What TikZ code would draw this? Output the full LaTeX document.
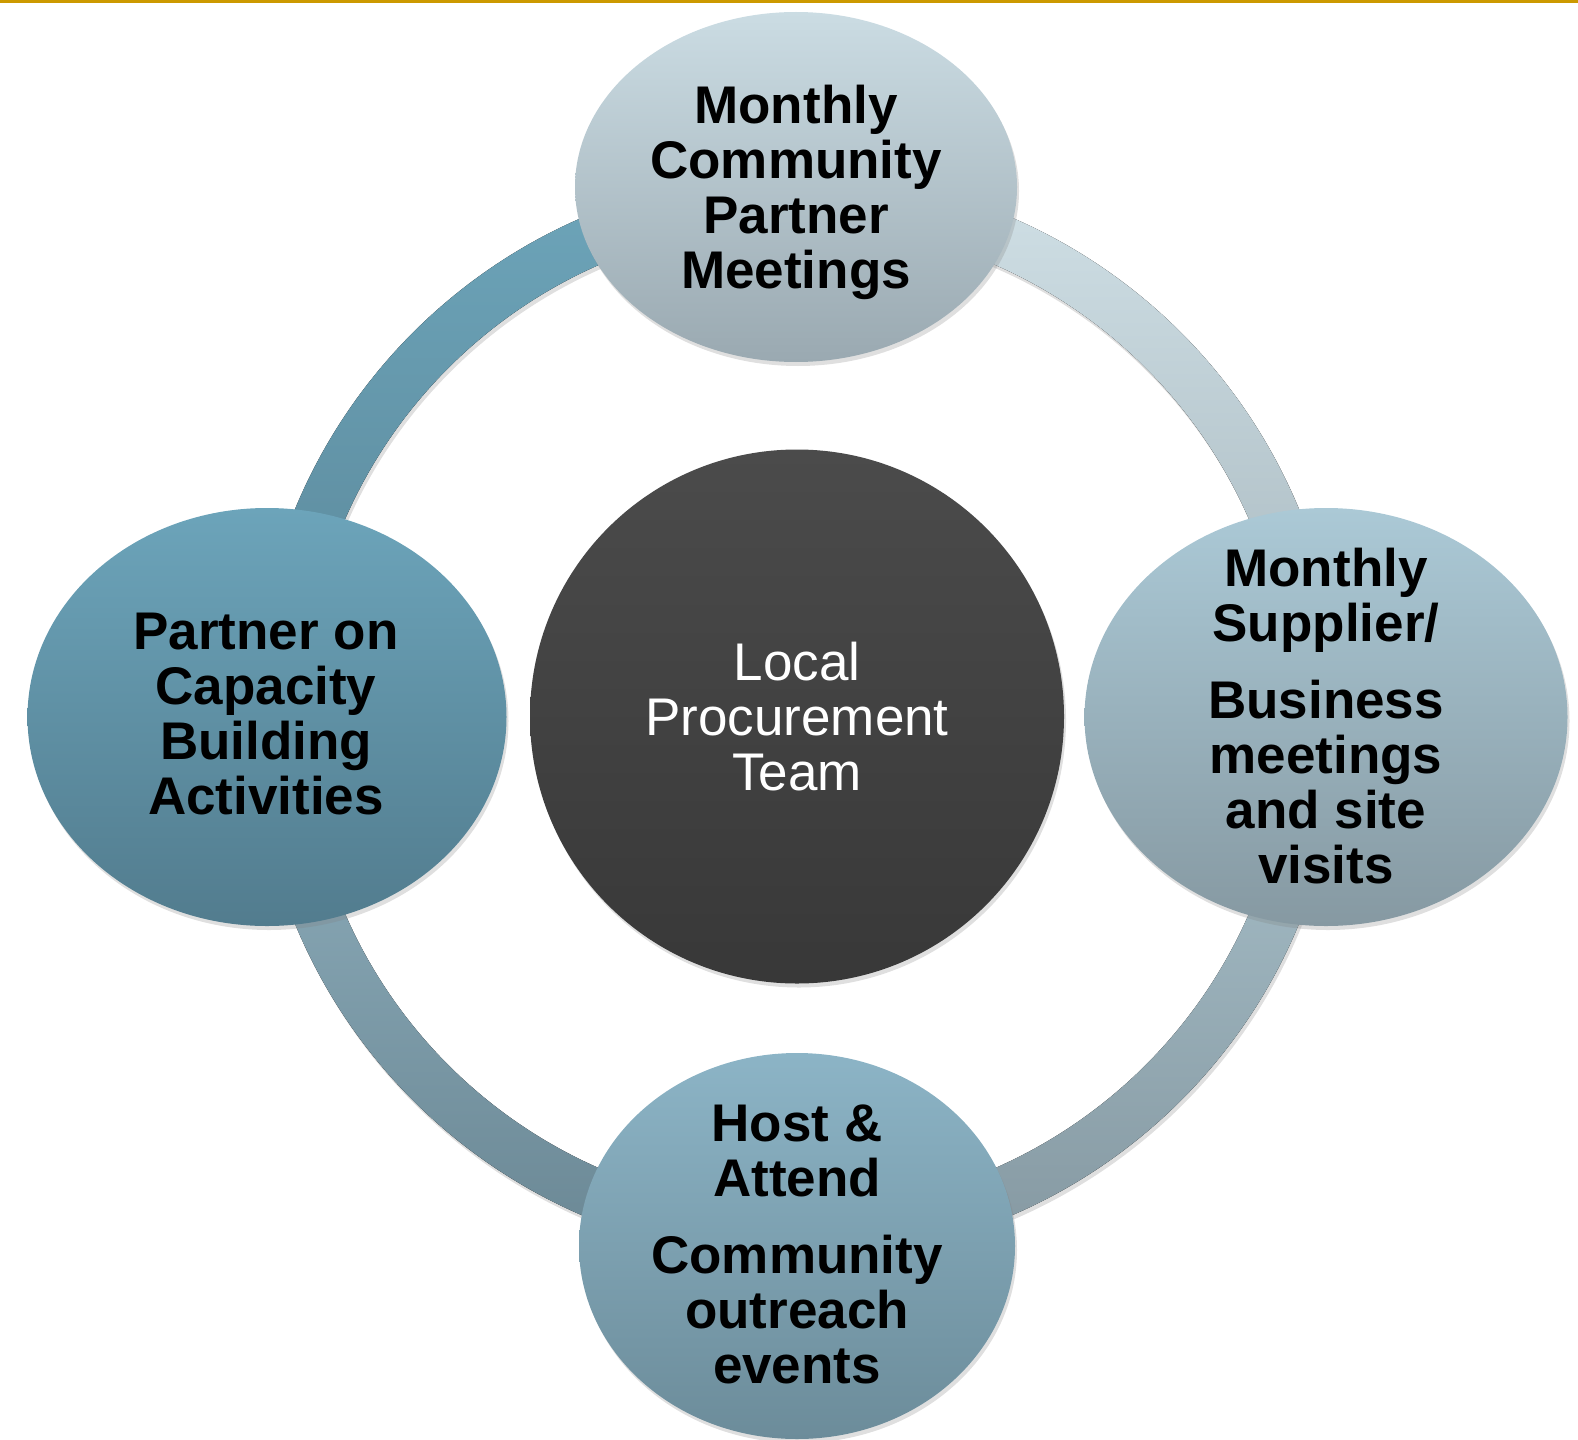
\documentclass[tikz,border=0pt]{standalone}
\usepackage{fontspec}
\setmainfont{Liberation Sans}
\usetikzlibrary{shapes.geometric,shadows}

\definecolor{goldline}{HTML}{CC9900}
\definecolor{hubtop}{HTML}{4B4B4B}
\definecolor{hubbot}{HTML}{383838}
\definecolor{ntop}{HTML}{CBDCE3}
\definecolor{nbot}{HTML}{9AA9B1}
\definecolor{etop}{HTML}{ABC9D6}
\definecolor{ebot}{HTML}{8699A2}
\definecolor{stop}{HTML}{8CB4C6}
\definecolor{sbot}{HTML}{6C8C9A}
\definecolor{wtop}{HTML}{6CA4BA}
\definecolor{wbot}{HTML}{527C8E}
\definecolor{netop}{HTML}{D0E0E6}
\definecolor{nebot}{HTML}{A6B6BD}
\definecolor{nwtop}{HTML}{6DA5BA}
\definecolor{nwbot}{HTML}{5A8698}
\definecolor{setop}{HTML}{AAC3CD}
\definecolor{sebot}{HTML}{8598A1}
\definecolor{swtop}{HTML}{91B1BF}
\definecolor{swbot}{HTML}{6A8794}

\tikzset{
  softshadow/.style={drop shadow={opacity=.25,shadow xshift=2pt,shadow yshift=-4pt}},
  ringpart/.style={softshadow},
  bubble/.style={ellipse,inner sep=0pt,softshadow},
  bubbletext/.style={anchor=north,inner sep=0pt,align=center,
    font=\fontsize{53}{55}\selectfont\bfseries}
}

\begin{document}
\begin{tikzpicture}[x=1pt,y=1pt]
  \useasboundingbox (0,0) rectangle (1578,-1439);
  \fill[goldline] (0,0) rectangle (1578,-3);

  \coordinate (c) at (797,-716.5);

  % ring
  \fill[ringpart,top color=netop,bottom color=nebot]
    ([shift={(0:543)}]c) arc[start angle=0,end angle=90,radius=543]
    -- ([shift={(90:493)}]c) arc[start angle=90,end angle=0,radius=493] -- cycle;
  \fill[ringpart,top color=nwtop,bottom color=nwbot]
    ([shift={(90:543)}]c) arc[start angle=90,end angle=180,radius=543]
    -- ([shift={(180:493)}]c) arc[start angle=180,end angle=90,radius=493] -- cycle;
  \fill[ringpart,top color=swtop,bottom color=swbot]
    ([shift={(180:543)}]c) arc[start angle=180,end angle=270,radius=543]
    -- ([shift={(270:493)}]c) arc[start angle=270,end angle=180,radius=493] -- cycle;
  \fill[ringpart,top color=setop,bottom color=sebot]
    ([shift={(270:543)}]c) arc[start angle=270,end angle=360,radius=543]
    -- ([shift={(0:493)}]c) arc[start angle=0,end angle=-90,radius=493] -- cycle;

  % hub and bubbles
  \node[circle,minimum size=534pt,inner sep=0pt,softshadow,
        top color=hubtop,bottom color=hubbot] (hub) at (c) {};
  \node[bubble,minimum width=442pt,minimum height=350pt,top color=ntop,bottom color=nbot] (n) at (796,-187) {};
  \node[bubble,minimum width=483pt,minimum height=418pt,top color=etop,bottom color=ebot] (e) at (1326,-717) {};
  \node[bubble,minimum width=436pt,minimum height=386pt,top color=stop,bottom color=sbot] (s) at (797,-1246) {};
  \node[bubble,minimum width=479pt,minimum height=418pt,top color=wtop,bottom color=wbot] (w) at (267,-717) {};

  % texts
  \node[bubbletext] (ntext) at (796,-85) {Monthly\\Community\\Partner\\Meetings};
  \node[bubbletext] (etext) at (1326,-548) {Monthly\\Supplier/\\[22pt]Business\\meetings\\and site\\visits};
  \node[bubbletext] (stext) at (797,-1105) {Host \&\\Attend\\[22pt]Community\\outreach\\events};
  \node[bubbletext] (wtext) at (266,-613) {Partner on\\Capacity\\Building\\Activities};
  \node[bubbletext,font=\fontsize{53}{55}\selectfont,text=white] (hubtext) at (797,-642) {Local\\Procurement\\Team};

\end{tikzpicture}
\end{document}
